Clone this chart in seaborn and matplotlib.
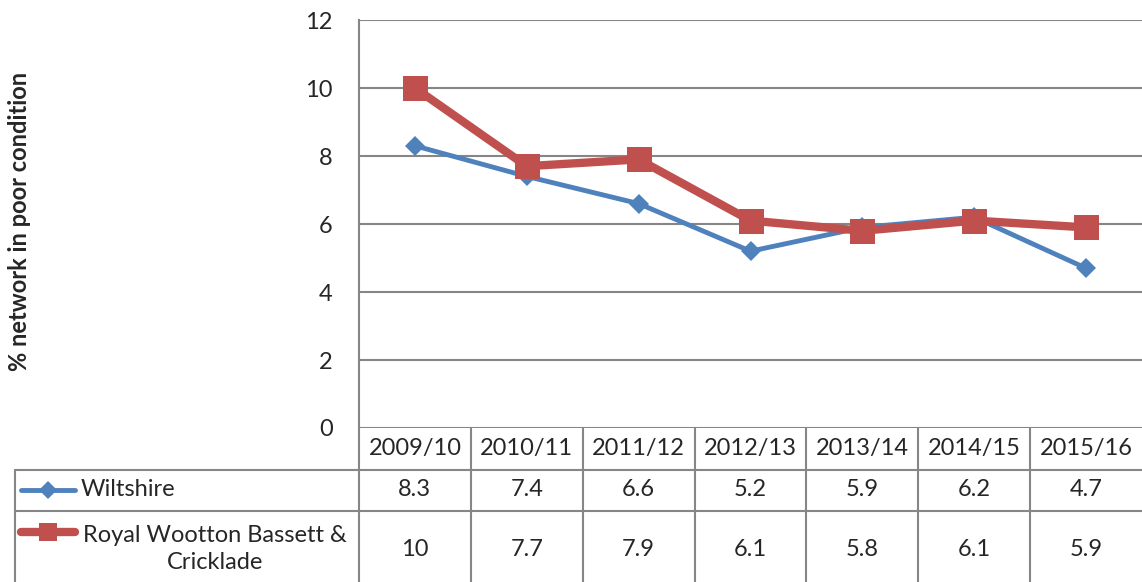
import numpy as np
import pandas as pd
import seaborn as sns
import matplotlib.pyplot as plt
from matplotlib.lines import Line2D

# chart values
years = ['2009/10', '2010/11', '2011/12', '2012/13', '2013/14', '2014/15', '2015/16']
wiltshire = [8.3, 7.4, 6.6, 5.2, 5.9, 6.2, 4.7]
rwb_cricklade = [10, 7.7, 7.9, 6.1, 5.8, 6.1, 5.9]
series_names = ['Wiltshire', 'Royal Wootton Bassett &\nCricklade']
y_ticks = [0, 2, 4, 6, 8, 10, 12]

blue = '#4F81BD'
red = '#C0504D'
grid_col = '#868686'
fs = 17

sns.set_style('white')
plt.rcParams['font.family'] = ['Lato', 'DejaVu Sans']

fig = plt.figure(figsize=(11.42, 5.82), dpi=100)
W, H = 1142, 582
ax = fig.add_axes([359 / W, 1 - 428 / H, 1 - 359 / W, 408 / H])

df = pd.DataFrame({'year': years * 2,
                   'value': wiltshire + rwb_cricklade,
                   'series': [series_names[0]] * len(years) + [series_names[1]] * len(years)})

sns.lineplot(data=df[df.series == series_names[0]], x='year', y='value', ax=ax,
             color=blue, lw=3.5, marker='D', markersize=10, markeredgewidth=0,
             zorder=3, legend=False)
sns.lineplot(data=df[df.series == series_names[1]], x='year', y='value', ax=ax,
             color=red, lw=6, marker='s', markersize=18, markeredgewidth=0,
             zorder=4, legend=False)

ax.set_xlim(-0.5, len(years) - 0.5)
ax.set_ylim(0, 12)
ax.set_yticks(y_ticks)
ax.set_yticklabels([str(t) for t in y_ticks], fontsize=fs)
ax.tick_params(axis='y', length=0, pad=19)
ax.set_xticks([])
ax.set_xlabel('')
ax.set_ylabel('')
ax.yaxis.grid(True, color=grid_col, lw=1.5)
for s in ax.spines.values():
    s.set_visible(False)
ax.spines['left'].set_visible(True)
ax.spines['left'].set_color(grid_col)
ax.spines['left'].set_linewidth(1.5)
ax.spines['left'].set_bounds(0, 12)

# data table below the plot
ph = 408.0
pw = 784.0
def ay(py):
    return -(py - 428) / ph
def axx(px):
    return (px - 359) / pw

tr_x = ax.get_xaxis_transform()
line_kw = dict(color=grid_col, lw=1.5, clip_on=False)

ax.add_line(Line2D([0, 0], [ay(428), ay(583)], transform=ax.transAxes, **line_kw))
ax.add_line(Line2D([axx(15), 1], [ay(470), ay(470)], transform=ax.transAxes, **line_kw))
ax.add_line(Line2D([axx(15), 1], [ay(511), ay(511)], transform=ax.transAxes, **line_kw))
ax.add_line(Line2D([axx(15), axx(15)], [ay(470), ay(583)], transform=ax.transAxes, **line_kw))
for i in range(1, len(years)):
    ax.add_line(Line2D([i - 0.5, i - 0.5], [ay(428), ay(583)], transform=tr_x, **line_kw))

for i, yr in enumerate(years):
    ax.text(i, ay(449), yr, transform=tr_x, ha='center', va='center', fontsize=fs)
    ax.text(i, ay(490), f'{wiltshire[i]:g}', transform=tr_x, ha='center', va='center', fontsize=fs)
    ax.text(i, ay(549), f'{rwb_cricklade[i]:g}', transform=tr_x, ha='center', va='center', fontsize=fs)

# legend keys inside table
ax.add_line(Line2D([axx(21), axx(75)], [ay(490), ay(490)], transform=ax.transAxes,
                   color=blue, lw=3.5, clip_on=False, solid_capstyle='round'))
ax.add_line(Line2D([axx(48)], [ay(490)], transform=ax.transAxes, color=blue,
                   marker='D', markersize=9, markeredgewidth=0, clip_on=False))
ax.add_line(Line2D([axx(21), axx(75)], [ay(532), ay(532)], transform=ax.transAxes,
                   color=red, lw=6, clip_on=False, solid_capstyle='round'))
ax.add_line(Line2D([axx(48)], [ay(532)], transform=ax.transAxes, color=red,
                   marker='s', markersize=13, markeredgewidth=0, clip_on=False))
ax.text(axx(80), ay(490), series_names[0], transform=ax.transAxes,
        ha='left', va='center', fontsize=fs)
ax.text(axx(215), ay(549), series_names[1], transform=ax.transAxes,
        ha='center', va='center', fontsize=fs, multialignment='center', linespacing=1.4)

fig.text(20 / W, 1 - 221 / H, '% network in poor condition', rotation=90,
         ha='center', va='center', fontsize=fs, fontweight='bold')

fig.savefig('out.png', dpi=100)
